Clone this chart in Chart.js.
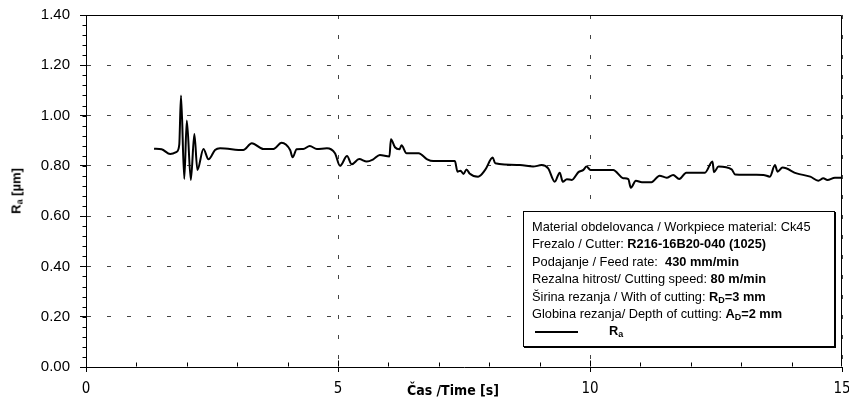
<!DOCTYPE html>
<html>
<head>
<meta charset="utf-8">
<script src="https://cdn.jsdelivr.net/npm/chart.js@4.4.0/dist/chart.umd.min.js"></script>
<style>
  body { margin: 0; background: #fff; }
  #wrap { position: relative; width: 849px; height: 404px; font-family: 'Liberation Sans', Arial, sans-serif; color: #000; }
  #ra { position: absolute; left: 0; top: 0; }
  .y-title { position: absolute; left: 16px; top: 191px; transform: translate(-50%, -50%) rotate(-90deg); font-weight: bold; font-size: 13px; white-space: nowrap; }
  .x-title { position: absolute; left: 453px; top: 390px; transform: translate(-50%, -50%); font-weight: bold; font-size: 14px; white-space: nowrap; font-family: 'Liberation Sans Narrow', 'DejaVu Sans Condensed', Arial, sans-serif; }
  sub { font-size: 70%; vertical-align: -2px; line-height: 0; }
  .legend-box { position: absolute; left: 523px; top: 211px; width: 312px; height: 136px; border: 1px solid #000; box-shadow: 1px 1px 0 #000; background: #fff; font-size: 12.8px; line-height: 17.4px; padding: 6px 0 0 8px; box-sizing: border-box; }
  .legend-box b { font-weight: bold; }
  .legend-row { white-space: nowrap; }
  .sample { display: inline-block; width: 43px; border-top: 2px solid #000; vertical-align: middle; margin: 0 31px 0 3px; }
</style>
</head>
<body>
<div id="wrap">
  <canvas id="ra" width="849" height="404"></canvas>
  <div class="y-title">R<sub>a</sub> [µm]</div>
  <div class="x-title">Čas /Time [s]</div>
  <div class="legend-box">
    <div class="legend-row">Material obdelovanca / Workpiece material: Ck45</div>
    <div class="legend-row">Frezalo / Cutter: <b>R216-16B20-040 (1025)</b></div>
    <div class="legend-row">Podajanje / Feed rate:&nbsp; <b>430 mm/min</b></div>
    <div class="legend-row">Rezalna hitrost/ Cutting speed: <b>80 m/min</b></div>
    <div class="legend-row">Širina rezanja / With of cutting: <b>R<sub>D</sub>=3 mm</b></div>
    <div class="legend-row">Globina rezanja/ Depth of cutting: <b>A<sub>D</sub>=2 mm</b></div>
    <div class="legend-row"><span class="sample"></span><b>R<sub>a</sub></b></div>
  </div>
</div>
<script>
// measured Ra over time
const timeS = [1.35, 1.50, 1.67, 1.80, 1.85, 1.885, 1.95, 2.00, 2.08, 2.15, 2.21, 2.33, 2.43, 2.56, 2.66,
  3.12, 3.29, 3.52, 3.72, 3.88, 4.05, 4.10, 4.18, 4.31, 4.44, 4.58, 4.78, 4.94, 5.04, 5.18,
  5.27, 5.42, 5.57, 5.70, 5.83, 6.02, 6.05, 6.13, 6.22, 6.26, 6.36, 6.60, 6.77, 6.89, 7.32,
  7.37, 7.43, 7.49, 7.55, 7.61, 7.78, 7.92, 8.07, 8.12, 8.61, 8.87, 9.04, 9.17, 9.30, 9.40,
  9.46, 9.54, 9.64, 9.77, 9.87, 9.93, 10.01, 10.46, 10.66, 10.76, 10.81, 10.91, 11.03, 11.22, 11.38,
  11.52, 11.65, 11.77, 11.91, 12.28, 12.43, 12.46, 12.55, 12.81, 12.88, 13.44, 13.57, 13.67, 13.72, 13.82,
  14.10, 14.37, 14.53, 14.63, 14.71, 14.86, 15.00];
const raValues = [0.868, 0.866, 0.847, 0.856, 0.883, 1.080, 0.748, 0.980, 0.744, 0.927, 0.784, 0.867, 0.826, 0.863, 0.870,
  0.863, 0.890, 0.867, 0.867, 0.892, 0.863, 0.834, 0.866, 0.867, 0.879, 0.867, 0.870, 0.850, 0.800, 0.839,
  0.806, 0.827, 0.817, 0.826, 0.843, 0.837, 0.906, 0.874, 0.866, 0.882, 0.850, 0.850, 0.826, 0.819, 0.819,
  0.777, 0.781, 0.768, 0.786, 0.770, 0.757, 0.784, 0.833, 0.810, 0.803, 0.797, 0.803, 0.790, 0.737, 0.773,
  0.737, 0.747, 0.744, 0.775, 0.784, 0.797, 0.784, 0.784, 0.751, 0.747, 0.713, 0.741, 0.735, 0.735, 0.761,
  0.753, 0.764, 0.748, 0.773, 0.773, 0.817, 0.775, 0.797, 0.786, 0.766, 0.764, 0.757, 0.803, 0.777, 0.793,
  0.770, 0.757, 0.741, 0.751, 0.744, 0.753, 0.753];

const xTicks = [0, 5, 10, 15];
const xTickLabels = ['0', '5', '10', '15'];
const yTicks = [0, 0.2, 0.4, 0.6, 0.8, 1.0, 1.2, 1.4];
const yTickLabels = ['0.00', '0.20', '0.40', '0.60', '0.80', '1.00', '1.20', '1.40'];
const xMinorStep = 1;
const yMinorStep = 0.04;

const frameAndMinorTicks = {
    id: 'frameAndMinorTicks',
    afterDraw(chart) {
        const { ctx, chartArea: a, scales: { x, y } } = chart;
        const L = Math.round(a.left) + 0.5, R = Math.round(a.right) - 0.5;
        const T = Math.round(a.top) + 0.5, B = Math.round(a.bottom) - 0.5;
        ctx.save();
        ctx.strokeStyle = '#000';
        ctx.lineWidth = 1;
        ctx.beginPath();
        ctx.moveTo(L, T); ctx.lineTo(R, T); ctx.lineTo(R, B);
        // y minor ticks, outside
        for (let v = yMinorStep; v < y.max; v += yMinorStep) {
            const py = Math.round(y.getPixelForValue(v)) + 0.5;
            ctx.moveTo(L - 4, py); ctx.lineTo(L, py);
        }
        // x minor ticks inside, major ones cross the axis
        for (let t = xMinorStep; t < x.max; t += xMinorStep) {
            const px = Math.round(x.getPixelForValue(t)) + 0.5;
            const len = xTicks.includes(t) ? 6 : 4;
            ctx.moveTo(px, B); ctx.lineTo(px, B - len);
        }
        ctx.stroke();
        ctx.restore();
    }
};

new Chart(document.getElementById('ra'), {
    type: 'line',
    data: {
        datasets: [{
            label: 'Ra',
            data: timeS.map((t, i) => ({ x: t, y: raValues[i] })),
            borderColor: '#000',
            borderWidth: 2,
            pointRadius: 0,
            cubicInterpolationMode: 'monotone',
            fill: false
        }]
    },
    options: {
        responsive: false,
        animation: false,
        layout: { padding: { top: 15, right: 7, left: 0, bottom: 0 } },
        plugins: { legend: { display: false }, tooltip: { enabled: false } },
        scales: {
            x: {
                type: 'linear',
                min: 0,
                max: 15,
                afterBuildTicks: s => { s.ticks = xTicks.map(v => ({ value: v })); },
                afterFit: s => { s.height = 37; s.paddingLeft = 0; s.paddingRight = 0; },
                grid: { color: '#444', tickColor: '#000', tickLength: 5 },
                border: { color: '#000', width: 1, dash: [4, 16] },
                ticks: {
                    color: '#000',
                    font: { family: "'Liberation Sans Narrow', 'DejaVu Sans Condensed', Arial, sans-serif", size: 15 },
                    padding: 8,
                    maxRotation: 0,
                    autoSkip: false,
                    callback: (v, i) => xTickLabels[i]
                }
            },
            y: {
                min: 0,
                max: 1.4,
                afterBuildTicks: s => { s.ticks = yTicks.map(v => ({ value: v })); },
                afterFit: s => { s.width = 86; s.paddingTop = 0; s.paddingBottom = 0; },
                grid: { color: '#444', tickColor: '#000', tickLength: 6 },
                border: { color: '#000', width: 1, dash: [4, 16] },
                ticks: {
                    color: '#000',
                    font: { family: "'Liberation Sans', Arial, sans-serif", size: 15 },
                    padding: 10,
                    autoSkip: false,
                    callback: (v, i) => yTickLabels[i]
                }
            }
        }
    },
    plugins: [frameAndMinorTicks]
});
</script>
</body>
</html>
